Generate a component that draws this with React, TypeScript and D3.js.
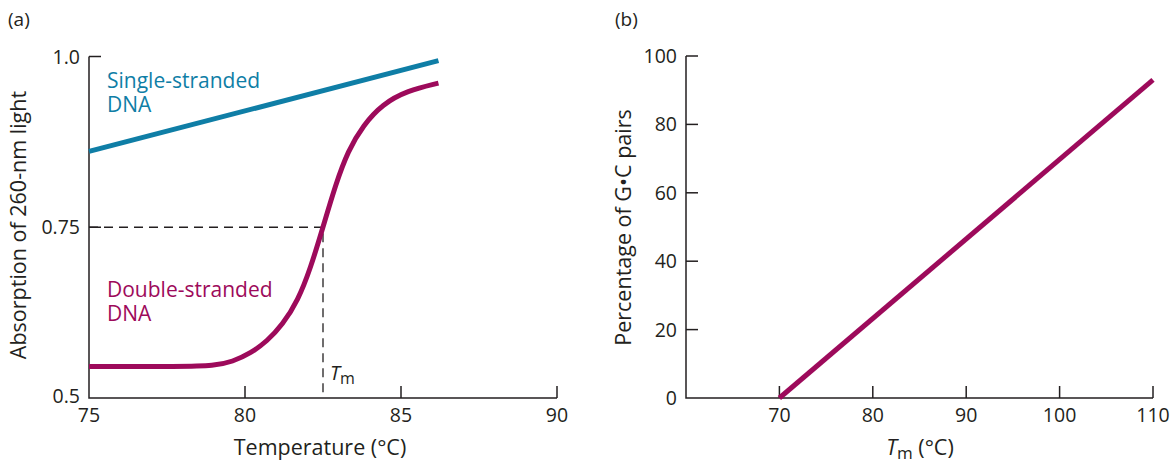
import React, { useRef, useEffect } from "react";
import * as d3 from "d3";

// panel (a) melting curve
const ssTemp = [75, 86.2];
const ssAbs = [0.861, 0.994];
const dsTemp = [75, 78.0, 79.0, 79.6, 80.2, 80.7, 81.2, 81.7, 82.1, 82.5, 82.9, 83.3, 83.8, 84.4, 85.2, 86.2];
const dsAbs = [0.546, 0.546, 0.547, 0.553, 0.566, 0.583, 0.607, 0.643, 0.69, 0.75, 0.812, 0.862, 0.9, 0.93, 0.95, 0.961];
const tm = 82.5;
const tmAbs = 0.75;
const aXTicks = [75, 80, 85, 90];
const aYTicks = [0.5, 0.75, 1.0];
const aYLabels = ["0.5", "0.75", "1.0"];

// panel (b) GC content vs Tm
const gcTm = [70, 110];
const gcPct = [0, 93];
const bXTicks = [70, 80, 90, 100, 110];
const bYTicks = [0, 20, 40, 60, 80, 100];

const teal = "#0f7ea6";
const magenta = "#9d0a5b";
const ink = "#231f20";
const font = "'Open Sans', sans-serif";

const App = () => {
  const ref = useRef(null);

  useEffect(() => {
    const svg = d3.select(ref.current);
    svg.selectAll("*").remove();

    const addText = (x, y, txt, opts = {}) =>
      svg
        .append("text")
        .attr("x", x)
        .attr("y", y)
        .attr("font-family", font)
        .attr("font-size", opts.size || 20)
        .attr("fill", opts.fill || ink)
        .attr("text-anchor", opts.anchor || "start")
        .text(txt);

    // two-line label in one text element
    const addLabel = (x, y, lines, fill) => {
      const t = addText(x, y, "", { fill, size: 21 });
      lines.forEach((l, i) => {
        t.append("tspan").attr("x", x).attr("dy", i === 0 ? 0 : 23.5).text(l);
      });
    };

    // ---------- panel (a)
    const xa = d3.scaleLinear().domain([75, 90]).range([89, 557]);
    const ya = d3.scaleLinear().domain([0.5, 1.0]).range([398, 56.5]);

    addText(8, 26, "(a)", { size: 19 });

    // axes
    svg
      .append("path")
      .attr("d", `M${xa(75)},${ya(1.0)}V${ya(0.5)}H${xa(90)}`)
      .attr("fill", "none")
      .attr("stroke", ink)
      .attr("stroke-width", 1.5);

    aXTicks.slice(1).forEach((t) => {
      svg
        .append("line")
        .attr("x1", xa(t))
        .attr("x2", xa(t))
        .attr("y1", ya(0.5))
        .attr("y2", ya(0.5) - 12)
        .attr("stroke", ink)
        .attr("stroke-width", 1.5);
    });
    aXTicks.forEach((t) => {
      addText(xa(t), 422, String(t), { anchor: "middle", size: 19.5 });
    });

    aYTicks.slice(1).forEach((t) => {
      svg
        .append("line")
        .attr("x1", xa(75))
        .attr("x2", xa(75) + 12)
        .attr("y1", ya(t))
        .attr("y2", ya(t))
        .attr("stroke", ink)
        .attr("stroke-width", 1.5);
    });
    aYTicks.forEach((t, i) => {
      addText(80, ya(t) + (i === 0 ? 5 : 7), aYLabels[i], { anchor: "end", size: 19.5 });
    });

    // dashed Tm guides
    svg
      .append("path")
      .attr("d", `M${xa(75)},${ya(tmAbs)}H${xa(tm)}V${ya(0.5)}`)
      .attr("fill", "none")
      .attr("stroke", ink)
      .attr("stroke-width", 1.3)
      .attr("stroke-dasharray", "9,6");

    const lineA = d3
      .line()
      .x((d) => xa(d[0]))
      .y((d) => ya(d[1]))
      .curve(d3.curveBasis);

    svg
      .append("path")
      .attr("d", lineA(ssTemp.map((t, i) => [t, ssAbs[i]])))
      .attr("fill", "none")
      .attr("stroke", teal)
      .attr("stroke-width", 5);

    svg
      .append("path")
      .attr("d", lineA(dsTemp.map((t, i) => [t, dsAbs[i]])))
      .attr("fill", "none")
      .attr("stroke", magenta)
      .attr("stroke-width", 5);

    addLabel(107, 88, ["Single-stranded", "DNA"], teal);
    addLabel(107, 297, ["Double-stranded", "DNA"], magenta);

    // Tm label
    const tmText = addText(xa(tm) + 7, 380, "", { size: 20 });
    tmText.append("tspan").attr("font-style", "italic").text("T");
    tmText.append("tspan").attr("dy", 4).attr("font-size", 16).text("m");

    addText(320, 455, "Temperature (°C)", { anchor: "middle", size: 21.5 });
    svg
      .append("text")
      .attr("transform", `translate(26,${(88 + 362) / 2}) rotate(-90)`)
      .attr("font-family", font)
      .attr("font-size", 21.5)
      .attr("fill", ink)
      .attr("text-anchor", "middle")
      .text("Absorption of 260-nm light");

    // ---------- panel (b)
    const xb = d3.scaleLinear().domain([60, 110]).range([686, 1153]);
    const yb = d3.scaleLinear().domain([0, 100]).range([398, 56]);

    addText(615, 26, "(b)", { size: 19 });

    svg
      .append("path")
      .attr("d", `M${xb(60)},${yb(100)}V${yb(0)}H${xb(110)}`)
      .attr("fill", "none")
      .attr("stroke", ink)
      .attr("stroke-width", 1.5);

    bXTicks.forEach((t) => {
      svg
        .append("line")
        .attr("x1", xb(t))
        .attr("x2", xb(t))
        .attr("y1", yb(0))
        .attr("y2", yb(0) - 12)
        .attr("stroke", ink)
        .attr("stroke-width", 1.5);
      addText(xb(t), 422, String(t), { anchor: "middle", size: 19.5 });
    });
    bYTicks.forEach((t, i) => {
      if (i > 0) {
        svg
          .append("line")
          .attr("x1", xb(60))
          .attr("x2", xb(60) + 12)
          .attr("y1", yb(t))
          .attr("y2", yb(t))
          .attr("stroke", ink)
          .attr("stroke-width", 1.5);
      }
      addText(677, yb(t) + 7, String(t), { anchor: "end", size: 19.5 });
    });

    svg
      .append("path")
      .attr(
        "d",
        d3
          .line()
          .x((d) => xb(d[0]))
          .y((d) => yb(d[1]))(gcTm.map((t, i) => [t, gcPct[i]]))
      )
      .attr("fill", "none")
      .attr("stroke", magenta)
      .attr("stroke-width", 5);

    const bx = addText(920, 455, "", { anchor: "middle", size: 21.5 });
    bx.append("tspan").attr("font-style", "italic").text("T");
    bx.append("tspan").attr("dy", 4).attr("font-size", 17).text("m");
    bx.append("tspan").attr("dy", -4).text(" (°C)");

    svg
      .append("text")
      .attr("transform", `translate(631,${(108 + 347) / 2}) rotate(-90)`)
      .attr("font-family", font)
      .attr("font-size", 21.5)
      .attr("fill", ink)
      .attr("text-anchor", "middle")
      .text("Percentage of G•C pairs");
  }, []);

  return (
    <svg
      ref={ref}
      width={1175}
      height={463}
      style={{ position: "absolute", left: 0, top: 0, background: "#fff" }}
    />
  );
};

export default App;
